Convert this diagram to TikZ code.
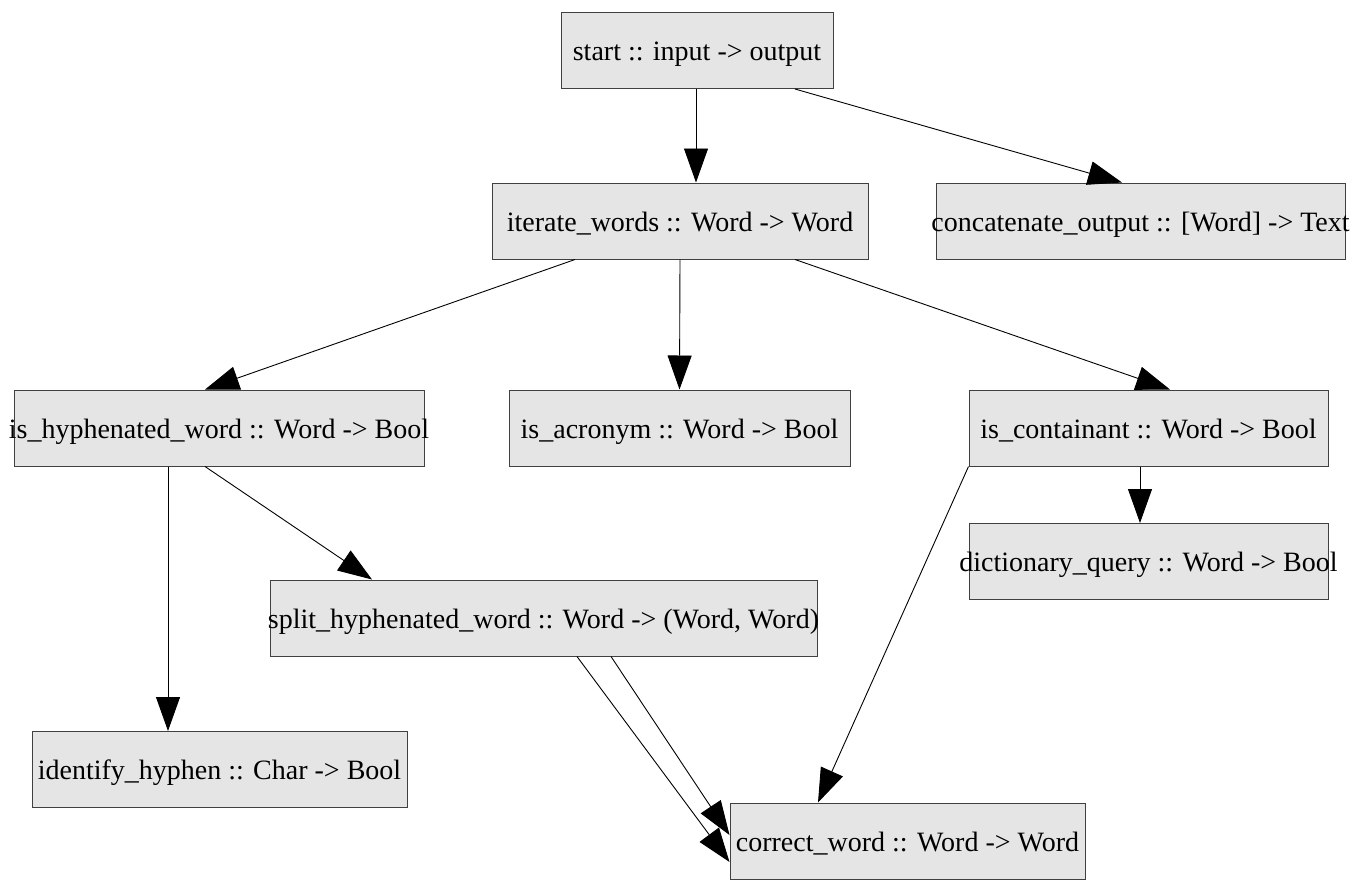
\documentclass[tikz,border=0pt]{standalone}
\usepackage{fontspec}
\setmainfont{Liberation Serif}
\usetikzlibrary{arrows.meta}
\tikzset{
  fn/.style={draw=black!75, line width=1pt, fill=black!10, inner sep=0pt, minimum height=76pt, font=\fontsize{28}{32}\selectfont},
  edge/.style={draw=black, line width=0.9pt, -{Triangle[length=34pt,width=24pt]}}
}
\newcommand{\lbl}[1]{\raisebox{-10pt}[0pt][0pt]{\makebox[0pt]{#1}}}
\begin{document}
\begin{tikzpicture}[x=1pt,y=-1pt]
\useasboundingbox (0,0) rectangle (1369,879);
\node[fn, minimum width=272pt] (start) at (697,50.5) {\lbl{start :: input -> output}};
\node[fn, minimum width=376pt] (iter) at (680,221) {\lbl{iterate\_words :: Word -> Word}};
\node[fn, minimum width=409pt] (concat) at (1140.5,221) {\lbl{concatenate\_output :: [Word] -> Text}};
\node[fn, minimum width=410pt] (hyph) at (219,428) {\lbl{is\_hyphenated\_word :: Word -> Bool}};
\node[fn, minimum width=341pt] (acro) at (679.5,428) {\lbl{is\_acronym :: Word -> Bool}};
\node[fn, minimum width=359pt] (cont) at (1148.5,428) {\lbl{is\_containant :: Word -> Bool}};
\node[fn, minimum width=359pt] (dict) at (1148.5,561.5) {\lbl{dictionary\_query :: Word -> Bool}};
\node[fn, minimum width=547pt] (split) at (543.5,618) {\lbl{split\_hyphenated\_word :: Word -> (Word, Word)}};
\node[fn, minimum width=375pt] (ident) at (219.5,769.5) {\lbl{identify\_hyphen :: Char -> Bool}};
\node[fn, minimum width=355pt] (corr) at (907.5,841) {\lbl{correct\_word :: Word -> Word}};

\draw[edge] ([xshift=-1pt]start.south) -- ([xshift=16pt]iter.north);
\draw[edge] ([xshift=98pt]start.south) -- ([xshift=-18.5pt]concat.north);
\draw[edge] ([xshift=-105pt]iter.south) -- ([xshift=-14pt]hyph.north);
\draw[edge] (iter.south) -- (acro.north);
\draw[edge] ([xshift=115pt]iter.south) -- ([xshift=21.5pt]cont.north);
\draw[edge] ([xshift=-8.5pt]cont.south) -- ([xshift=-8.5pt]dict.north);
\draw[edge] (cont.south west) -- ([xshift=-89.5pt]corr.north);
\draw[edge] ([xshift=-51pt]hyph.south) -- ([xshift=-51.5pt]ident.north);
\draw[edge] ([xshift=-14pt]hyph.south) -- ([xshift=-171.5pt]split.north);
\draw[edge] ([xshift=67.5pt]split.south) -- ([yshift=6pt]corr.west);
\draw[edge] ([xshift=33.5pt]split.south) -- ([yshift=-21pt]corr.west);
\end{tikzpicture}
\end{document}
